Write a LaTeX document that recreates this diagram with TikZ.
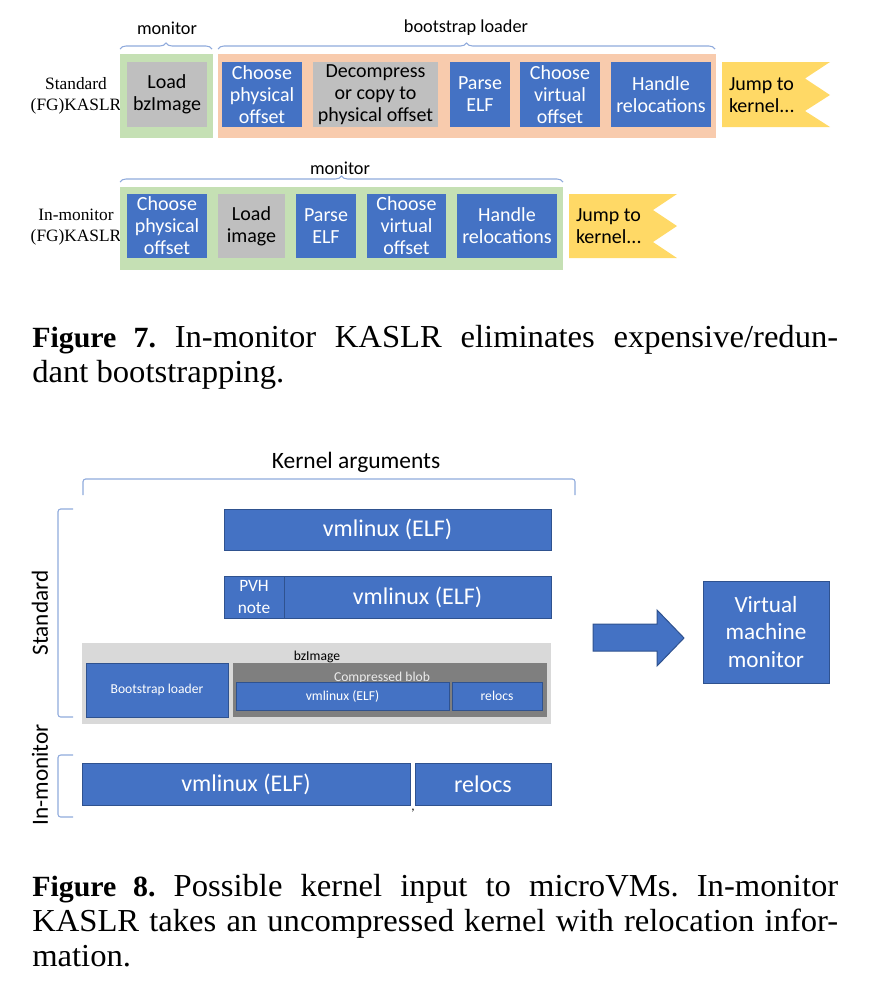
\documentclass[tikz,border=0pt]{standalone}
\usepackage{fontspec}
\setmainfont{Liberation Serif}
\newfontfamily\capfont[FakeStretch=1.02]{Liberation Serif}
\newfontfamily\carl{Carlito}
\usetikzlibrary{decorations.pathreplacing}
\definecolor{bl}{HTML}{4472C4}
\definecolor{bd}{HTML}{2F528F}
\definecolor{gy}{HTML}{BFBFBF}
\definecolor{lgreen}{HTML}{C5E0B4}
\definecolor{orng}{HTML}{F8CBAD}
\definecolor{yel}{HTML}{FFD966}
\definecolor{brcc}{HTML}{8FAADC}
\definecolor{bzg}{HTML}{D9D9D9}
\definecolor{blobg}{HTML}{7F7F7F}
\newcommand\rbox[7]{\node[#1,minimum width={(#5-#3)*0.75pt},minimum height={(#6-#4)*0.75pt}] (#2) at ({(#3+#5)/2},{(#4+#6)/2}) {#7};}
\newcommand\figlbl[1]{{\fontsize{22}{26}\selectfont\bfseries #1}}
\begin{document}
\begin{tikzpicture}[x=0.75pt,y=-0.75pt,
  bxbase/.style={rectangle,inner sep=0pt,outer sep=0pt,align=center},
  blk/.style={bxbase,fill=bl,text=white,font=\carl\fontsize{15}{16.5}\selectfont},
  gbox/.style={bxbase,fill=gy,text=black,font=\carl\fontsize{15}{16.5}\selectfont},
  grn/.style={bxbase,fill=lgreen},
  org/.style={bxbase,fill=orng},
  jtext/.style={bxbase,align=left,text=black,font=\carl\fontsize{15}{16.5}\selectfont},
  flagfill/.style={fill=yel},
  brc/.style={draw=brcc,line width=0.8pt},
  toplbl/.style={inner sep=0pt,font=\carl\fontsize{13.7}{16}\selectfont},
  serlbl/.style={inner sep=0pt,align=center,font=\fontsize{13}{16}\selectfont},
  bb/.style={bxbase,fill=bl,draw=bd,line width=0.75pt,text=white},
  bigtxt/.style={font=\carl\fontsize{18}{20}\selectfont},
  smltxt/.style={font=\carl\fontsize{10.2}{12}\selectfont},
  capt/.style={anchor=base west,inner sep=0pt,font=\capfont\fontsize{24}{26}\selectfont\frenchspacing},
]
\useasboundingbox (0,0) rectangle (874,1000);

% ---------- Figure 7 : standard row ----------
\node[serlbl] (s1) at (76,96) {Standard\\(FG)KASLR};
\rbox{grn}{mon1}{120}{54}{213}{138}{}
\rbox{gbox}{load1}{127}{62}{207}{127}{Load\\bzImage}
\rbox{org}{boot1}{218}{54}{716}{138}{}
\rbox{blk}{cp1}{222}{62}{302}{127}{Choose\\physical\\offset}
\rbox{gbox}{dec1}{313}{62}{438}{127}{Decompress\\or copy to\\physical offset}
\rbox{blk}{pe1}{450}{62}{510}{127}{Parse\\ELF}
\rbox{blk}{cv1}{520}{62}{600}{127}{Choose\\virtual\\offset}
\rbox{blk}{hr1}{611}{62}{711}{127}{Handle\\relocations}
\fill[flagfill] (722,62) -- (830,62) -- (805,78.5) -- (830,95) -- (805,111) -- (830,127) -- (722,127) -- cycle;
\node[jtext,anchor=west] (j1) at (729,95) {Jump to\\kernel...};
\draw[brc,decorate,decoration={brace,amplitude=4.5pt}] (120,49) -- (212,49);
\node[toplbl] (ml1) at (167,28) {monitor};
\draw[brc,decorate,decoration={brace,amplitude=4.5pt}] (218,49) -- (715,49);
\node[toplbl] (bl1) at (466,28) {bootstrap loader};

% ---------- Figure 7 : in-monitor row ----------
\node[serlbl] (s2) at (76,227) {In-monitor\\(FG)KASLR};
\rbox{grn}{mon2}{120}{187}{563}{270}{}
\rbox{blk}{cp2}{127}{194}{207}{258}{Choose\\physical\\offset}
\rbox{gbox}{load2}{218}{194}{285}{258}{Load\\image}
\rbox{blk}{pe2}{296}{194}{356}{258}{Parse\\ELF}
\rbox{blk}{cv2}{367}{194}{446}{258}{Choose\\virtual\\offset}
\rbox{blk}{hr2}{457}{194}{557}{258}{Handle\\relocations}
\fill[flagfill] (569,194) -- (677,194) -- (653,210) -- (677,226) -- (653,242) -- (677,258) -- (569,258) -- cycle;
\node[jtext,anchor=west] (j2) at (576,226) {Jump to\\kernel...};
\draw[brc,decorate,decoration={brace,amplitude=4.5pt}] (120,182) -- (563,182);
\node[toplbl] (ml2) at (340,168) {monitor};

% ---------- Caption 7 ----------
\node[capt] (c7a) at (32,347) {\makebox[604.5pt][s]{\figlbl{Figure 7.} In-monitor KASLR eliminates expensive/redun-}};
\node[capt] (c7b) at (32,382) {dant bootstrapping.};

% ---------- Figure 8 ----------
\node[inner sep=0pt,font=\carl\fontsize{17.6}{20}\selectfont] (ka) at (356,462) {Kernel arguments};
\draw[brc,rounded corners=2pt] (83,495) -- (83,479) -- (575,479) -- (575,495);
\draw[brc,rounded corners=2pt] (73,509) -- (58,509) -- (58,717) -- (73,717);
\draw[brc,rounded corners=2pt] (73,755) -- (58,755) -- (58,817) -- (73,817);
\node[rotate=90,inner sep=0pt,font=\carl\fontsize{17.4}{20}\selectfont] (stdl) at (40,613) {Standard};
\node[rotate=90,inner sep=0pt,font=\carl\fontsize{17.4}{20}\selectfont] (inml) at (40,775) {In-monitor};

\rbox{bb,bigtxt}{vm1}{224}{509}{551}{550}{vmlinux (ELF)}
\rbox{bb,font=\carl\fontsize{13}{16}\selectfont}{pvh}{224}{576}{284}{618}{PVH\\note}
\rbox{bb,bigtxt}{vm2}{284}{576}{551}{618}{vmlinux (ELF)}

\rbox{bxbase,fill=bzg}{bz}{82}{643}{551}{724}{}
\node[smltxt,inner sep=0pt] (bzl) at (317,657) {bzImage};
\rbox{bb,smltxt}{boot}{86}{663}{228}{717}{Bootstrap loader}
\rbox{bxbase,fill=blobg}{blob}{233}{663}{547}{717}{}
\node[smltxt,inner sep=0pt,text=white!92!black] (blobl) at (382,678) {Compressed blob};
\rbox{bb,smltxt}{vm3}{236}{682}{449}{710}{vmlinux (ELF)}
\rbox{bb,smltxt}{rel3}{452}{682}{542}{710}{relocs}

\rbox{bb,bigtxt}{vm4}{82}{763}{410}{805}{vmlinux (ELF)}
\rbox{bb,bigtxt}{rel4}{415}{763}{551}{805}{relocs}
\node[inner sep=0pt,font=\carl\fontsize{10}{12}\selectfont] (cm) at (413,811) {,};

\filldraw[fill=bl,draw=bd,line width=0.75pt] (593,624) -- (657,624) -- (657,610) -- (684,638) -- (657,666) -- (657,651) -- (593,651) -- cycle;
\rbox{bb,font=\carl\fontsize{17.4}{20.5}\selectfont}{vmm}{703}{581}{829}{683}{Virtual\\machine\\monitor}

% ---------- Caption 8 ----------
\node[capt] (c8a) at (32,896) {\makebox[604.5pt][s]{\figlbl{Figure 8.} Possible kernel input to microVMs. In-monitor}};
\node[capt] (c8b) at (32,931) {\makebox[604.5pt][s]{KASLR takes an uncompressed kernel with relocation infor-}};
\node[capt] (c8c) at (32,966) {mation.};
\end{tikzpicture}
\end{document}
